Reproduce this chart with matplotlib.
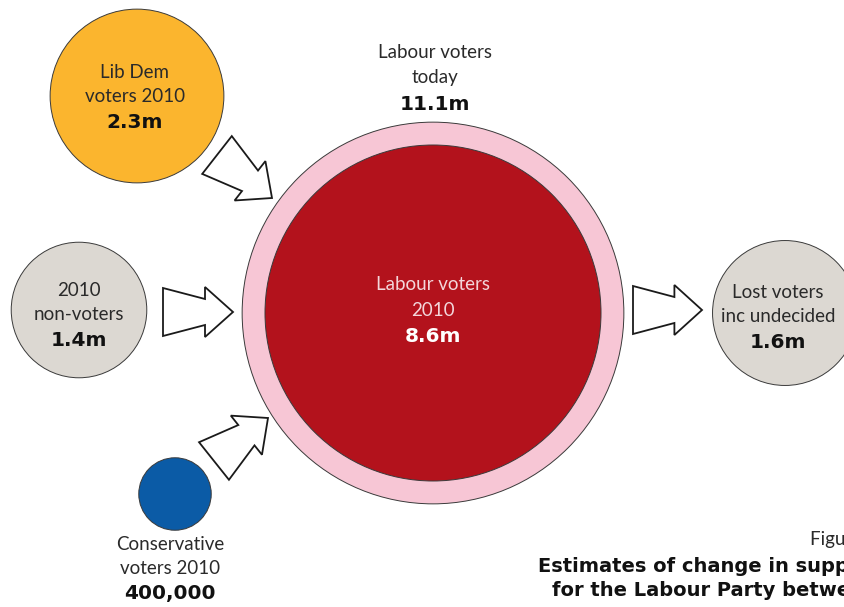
import numpy as np
import matplotlib
matplotlib.use("Agg")
import matplotlib.pyplot as plt
from matplotlib.patches import Circle, Polygon

# ---- data ----
groups = ["Lib Dem voters 2010", "2010 non-voters", "Conservative voters 2010",
          "Labour voters 2010", "Labour voters today", "Lost voters inc undecided"]
values_m = [2.3, 1.4, 0.4, 8.6, 11.1, 1.6]
label_lines = [["Lib Dem", "voters 2010"], ["2010", "non-voters"],
               ["Conservative", "voters 2010"], ["Labour voters", "2010"],
               ["Labour voters", "today"], ["Lost voters", "inc undecided"]]
value_labels = ["2.3m", "1.4m", "400,000", "8.6m", "11.1m", "1.6m"]
title_lines = ["Figure 1", "Estimates of change in support",
               "for the Labour Party between"]

# ---- layout / style ----
fill_colors = ["#FBB52E", "#DCD8D2", "#0B5BA6", "#B3121C", "#F7C6D5", "#DCD8D2"]
centers = [(137, 96), (79, 310), (175, 494), (433, 313), (433, 313), (785, 313)]
scale = 168 / np.sqrt(8.6)   # radius per sqrt(million), area-proportional

FONT = ["Lato", "DejaVu Sans"]
BOLD = ["DejaVu Sans"]
plt.rcParams["font.family"] = FONT

fig = plt.figure(figsize=(8.45, 6.07), dpi=100)
ax = fig.add_axes([0, 0, 1, 1])
ax.set_xlim(0, 845)
ax.set_ylim(607, 0)
ax.axis("off")

order = [4, 3, 0, 1, 2, 5]
for i in order:
    r = scale * np.sqrt(values_m[i])
    ax.add_patch(Circle(centers[i], r, facecolor=fill_colors[i],
                        edgecolor="#3a3a3a", linewidth=0.7, zorder=2 + (i == 3)))

def block_arrow(tail, tip):
    tail = np.array(tail, float)
    tip = np.array(tip, float)
    d = tip - tail
    L = np.hypot(*d)
    u = d / L
    v = np.array([-u[1], u[0]])
    shaft = L * 0.6
    local = [(0, -24), (shaft, -13), (shaft, -25), (L, 0),
             (shaft, 25), (shaft, 13), (0, 24)]
    pts = [tail + a * u + b * v for a, b in local]
    ax.add_patch(Polygon(pts, closed=True, facecolor="white",
                         edgecolor="#1a1a1a", linewidth=1.3, zorder=4,
                         joinstyle="miter"))

block_arrow((217, 155), (272, 198))
block_arrow((163, 312), (233, 312))
block_arrow((214, 461), (268, 418))
block_arrow((633, 310), (702, 310))

def label(x, y0, lines, value, color="#2a2a2a", vcolor="#111111", size=13.5, step=25):
    y = y0
    for ln in lines:
        ax.text(x, y, ln, ha="center", va="center", fontsize=size,
                color=color, zorder=6)
        y += step
    ax.text(x, y + 1, value, ha="center", va="center", fontsize=14.5,
            fontweight="bold", family=BOLD, color=vcolor, zorder=6)

label(135, 72, label_lines[0], value_labels[0])
label(79, 290, label_lines[1], value_labels[1])
label(170, 545, label_lines[2], value_labels[2], step=24)
label(433, 285, label_lines[3], value_labels[3], color="#F3D6DA", vcolor="white")
label(435, 53, label_lines[4], value_labels[4])
label(778, 292, label_lines[5], value_labels[5])

ax.text(810, 540, title_lines[0], ha="left", va="center", fontsize=13.5,
        color="#2a2a2a")
ax.text(538, 566, title_lines[1], ha="left", va="center", fontsize=14,
        fontweight="bold", family=BOLD, color="#111111")
ax.text(552, 591, title_lines[2], ha="left", va="center", fontsize=14,
        fontweight="bold", family=BOLD, color="#111111")

fig.savefig("out.png", dpi=100)
